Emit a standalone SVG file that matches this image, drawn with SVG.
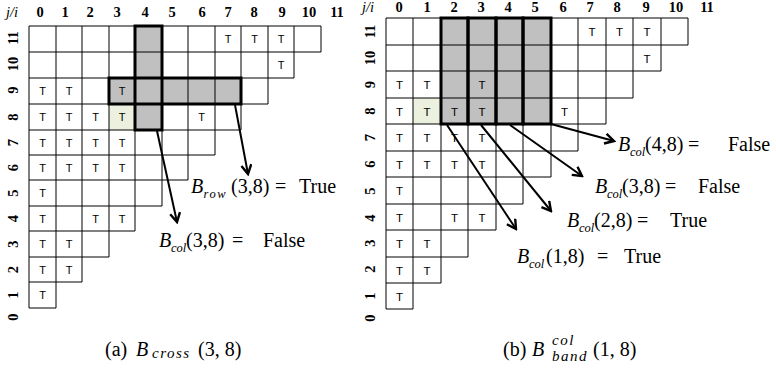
<svg xmlns="http://www.w3.org/2000/svg" width="776" height="371" viewBox="0 0 776 371">
<defs>
<style>
.g{fill:none;stroke:#000;stroke-width:1}
.k{fill:none;stroke:#000;stroke-width:3}
.gray{fill:#c0c0c0}
.grn{fill:#ebf1de}
.t{font-family:"Liberation Sans",Arial,sans-serif;font-size:11px;text-anchor:middle;fill:#000}
.tb{font-family:"Liberation Sans",Arial,sans-serif;font-size:11.5px;text-anchor:middle;fill:#000}
.h{font-family:"Liberation Serif","Times New Roman",serif;font-size:14.5px;font-weight:bold;text-anchor:middle;fill:#000}
.ji{font-family:"Liberation Serif","Times New Roman",serif;font-size:14.5px;font-style:italic;fill:#000}
.m{font-family:"Liberation Serif","Times New Roman",serif;font-size:20px;fill:#000}
.i{font-style:italic}
.s{font-size:12.5px;font-style:italic}
.cap{font-family:"Liberation Serif","Times New Roman",serif;font-size:20px;fill:#000}
.cs{font-size:15px;font-style:italic;letter-spacing:1.5px}
.arr{fill:none;stroke:#000;stroke-width:2}
</style>
<marker id="ah" viewBox="0 0 12 12" refX="10" refY="6" markerWidth="12" markerHeight="12" markerUnits="userSpaceOnUse" orient="auto">
<path d="M1,1 L10,6 L1,11" fill="none" stroke="#000" stroke-width="2.4"/>
</marker>
</defs>

<g id="grid-a">
<rect class="gray" x="135" y="26" width="27" height="104"/>
<rect class="gray" x="109" y="78" width="132" height="26"/>
<rect class="grn" x="109" y="104" width="26" height="26"/>
<path class="g" d="M29,26V308M56,26V308M82,26V282M109,26V257M135,26V231M162,26V206M188,26V180M215,26V155M241,26V130M268,26V104M294,26V78M321,26V52M29,26H321M29,52H321M29,78H294M29,104H268M29,130H241M29,155H215M29,180H188M29,206H162M29,231H135M29,257H109M29,282H82M29,308H56"/>
<rect class="k" x="135" y="26" width="27" height="104"/>
<rect class="k" x="109" y="78" width="132" height="26"/>
<g>
<text class="t" x="228" y="43">T</text><text class="t" x="254.5" y="43">T</text><text class="t" x="281" y="43">T</text>
<text class="t" x="281" y="69">T</text>
<text class="t" x="42.5" y="95">T</text><text class="t" x="69" y="95">T</text><text class="t" x="122" y="95">T</text>
<text class="t" x="42.5" y="121">T</text><text class="t" x="69" y="121">T</text><text class="t" x="95.5" y="121">T</text><text class="t" x="122" y="121">T</text><text class="t" x="201.5" y="121">T</text>
<text class="t" x="42.5" y="146.5">T</text><text class="t" x="69" y="146.5">T</text><text class="t" x="95.5" y="146.5">T</text><text class="t" x="122" y="146.5">T</text>
<text class="t" x="42.5" y="171.5">T</text><text class="t" x="69" y="171.5">T</text><text class="t" x="95.5" y="171.5">T</text><text class="t" x="122" y="171.5">T</text>
<text class="t" x="42.5" y="197">T</text>
<text class="t" x="42.5" y="222.5">T</text><text class="t" x="95.5" y="222.5">T</text><text class="t" x="122" y="222.5">T</text>
<text class="t" x="42.5" y="248">T</text><text class="t" x="69" y="248">T</text>
<text class="t" x="42.5" y="273.5">T</text><text class="t" x="69" y="273.5">T</text>
<text class="t" x="42.5" y="299">T</text>
</g>
<g>
<text class="ji" x="6" y="17">j/i</text>
<text class="h" x="40" y="17">0</text><text class="h" x="65" y="17">1</text><text class="h" x="90" y="17">2</text><text class="h" x="117" y="17">3</text><text class="h" x="145" y="17">4</text><text class="h" x="172" y="17">5</text><text class="h" x="202" y="17">6</text><text class="h" x="228" y="17">7</text><text class="h" x="254" y="17">8</text><text class="h" x="282" y="17">9</text><text class="h" x="309" y="17">10</text><text class="h" x="337" y="17">11</text>
<text class="h" transform="translate(18,38) rotate(-90)">11</text>
<text class="h" transform="translate(18,64) rotate(-90)">10</text>
<text class="h" transform="translate(18,90) rotate(-90)">9</text>
<text class="h" transform="translate(18,117) rotate(-90)">8</text>
<text class="h" transform="translate(18,142.5) rotate(-90)">7</text>
<text class="h" transform="translate(18,167.5) rotate(-90)">6</text>
<text class="h" transform="translate(18,193) rotate(-90)">5</text>
<text class="h" transform="translate(18,218.5) rotate(-90)">4</text>
<text class="h" transform="translate(18,244) rotate(-90)">3</text>
<text class="h" transform="translate(18,269.5) rotate(-90)">2</text>
<text class="h" transform="translate(18,295) rotate(-90)">1</text>
<text class="h" transform="translate(18,317) rotate(-90)">0</text>
</g>
</g>

<g id="grid-b">
<rect class="gray" x="441" y="18" width="110" height="106"/>
<rect class="grn" x="413" y="98" width="28" height="26"/>
<path class="g" d="M386,18V309M413,18V309M441,18V283M468,18V257M496,18V230M523,18V204M551,18V177M578,18V151M606,18V124M633,18V98M661,18V71M688,18V45M386,18H688M386,45H688M386,71H661M386,98H633M386,124H606M386,151H578M386,177H551M386,204H523M386,230H496M386,257H468M386,283H441M386,309H413"/>
<rect class="k" x="441" y="18" width="27" height="106"/>
<rect class="k" x="468" y="18" width="28" height="106"/>
<rect class="k" x="496" y="18" width="27" height="106"/>
<rect class="k" x="523" y="18" width="28" height="106"/>
<g>
<text class="tb" x="592" y="36">T</text><text class="tb" x="619.5" y="36">T</text><text class="tb" x="647" y="36">T</text>
<text class="tb" x="647" y="62.5">T</text>
<text class="tb" x="399.5" y="89">T</text><text class="tb" x="427" y="89">T</text><text class="tb" x="482" y="89">T</text>
<text class="tb" x="399.5" y="115.5">T</text><text class="tb" x="427" y="115.5">T</text><text class="tb" x="454.5" y="115.5">T</text><text class="tb" x="482" y="115.5">T</text><text class="tb" x="564.5" y="115.5">T</text>
<text class="tb" x="399.5" y="142">T</text><text class="tb" x="427" y="142">T</text><text class="tb" x="454.5" y="142">T</text><text class="tb" x="482" y="142">T</text>
<text class="tb" x="399.5" y="168.5">T</text><text class="tb" x="427" y="168.5">T</text><text class="tb" x="454.5" y="168.5">T</text><text class="tb" x="482" y="168.5">T</text>
<text class="tb" x="399.5" y="195">T</text>
<text class="tb" x="399.5" y="221.5">T</text><text class="tb" x="454.5" y="221.5">T</text><text class="tb" x="482" y="221.5">T</text>
<text class="tb" x="399.5" y="248">T</text><text class="tb" x="427" y="248">T</text>
<text class="tb" x="399.5" y="274.5">T</text><text class="tb" x="427" y="274.5">T</text>
<text class="tb" x="399.5" y="300.5">T</text>
</g>
<g>
<text class="ji" x="362" y="12">j/i</text>
<text class="h" x="399" y="12">0</text><text class="h" x="427" y="12">1</text><text class="h" x="454" y="12">2</text><text class="h" x="481" y="12">3</text><text class="h" x="508" y="12">4</text><text class="h" x="535" y="12">5</text><text class="h" x="563" y="12">6</text><text class="h" x="590" y="12">7</text><text class="h" x="617" y="12">8</text><text class="h" x="646" y="12">9</text><text class="h" x="676" y="12">10</text><text class="h" x="707" y="12">11</text>
<text class="h" transform="translate(375,31.5) rotate(-90)">11</text>
<text class="h" transform="translate(375,58) rotate(-90)">10</text>
<text class="h" transform="translate(375,84.5) rotate(-90)">9</text>
<text class="h" transform="translate(375,111) rotate(-90)">8</text>
<text class="h" transform="translate(375,137.5) rotate(-90)">7</text>
<text class="h" transform="translate(375,164) rotate(-90)">6</text>
<text class="h" transform="translate(375,191) rotate(-90)">5</text>
<text class="h" transform="translate(375,218) rotate(-90)">4</text>
<text class="h" transform="translate(375,243) rotate(-90)">3</text>
<text class="h" transform="translate(375,269) rotate(-90)">2</text>
<text class="h" transform="translate(375,296) rotate(-90)">1</text>
<text class="h" transform="translate(375,318) rotate(-90)">0</text>
</g>
</g>

<g id="connectors">
<line class="arr" x1="157" y1="131" x2="177" y2="222" marker-end="url(#ah)"/>
<line class="arr" x1="235" y1="105" x2="248" y2="174" marker-end="url(#ah)"/>
<line class="arr" x1="447" y1="125" x2="516" y2="229" marker-end="url(#ah)"/>
<line class="arr" x1="481" y1="125" x2="551" y2="211" marker-end="url(#ah)"/>
<line class="arr" x1="510" y1="125" x2="582" y2="176" marker-end="url(#ah)"/>
<line class="arr" x1="551" y1="124" x2="614" y2="141" marker-end="url(#ah)"/>
</g>

<g id="label-brow">
<text class="m" y="193"><tspan x="191" class="i">B</tspan><tspan x="203.5" dy="5" class="s" letter-spacing="1.5">row</tspan><tspan x="231" dy="-5">(3,8)</tspan> <tspan x="275">=</tspan> <tspan x="299">True</tspan></text>
</g>
<g id="label-bcol-a">
<text class="m" y="247"><tspan x="159" class="i">B</tspan><tspan x="171" dy="5" class="s">col</tspan><tspan x="186" dy="-5">(3,8)</tspan> <tspan x="232">=</tspan> <tspan x="263">False</tspan></text>
</g>
<g id="label-bcol48">
<text class="m" y="151"><tspan x="618" class="i">B</tspan><tspan x="630" dy="5" class="s">col</tspan><tspan x="645" dy="-5">(4,8)</tspan> <tspan x="688">=</tspan> <tspan x="728">False</tspan></text>
</g>
<g id="label-bcol38">
<text class="m" y="193"><tspan x="595" class="i">B</tspan><tspan x="607" dy="5" class="s">col</tspan><tspan x="622" dy="-5">(3,8)</tspan> <tspan x="665">=</tspan> <tspan x="698">False</tspan></text>
</g>
<g id="label-bcol28">
<text class="m" y="227"><tspan x="567" class="i">B</tspan><tspan x="579" dy="5" class="s">col</tspan><tspan x="594" dy="-5">(2,8)</tspan> <tspan x="637">=</tspan> <tspan x="670">True</tspan></text>
</g>
<g id="label-bcol18">
<text class="m" y="263"><tspan x="517" class="i">B</tspan><tspan x="529" dy="5" class="s">col</tspan><tspan x="546" dy="-5">(1,8)</tspan> <tspan x="597">=</tspan> <tspan x="624">True</tspan></text>
</g>

<g id="caption-a">
<text class="cap" y="356"><tspan x="105">(a)</tspan> <tspan x="136" class="i">B</tspan><tspan x="152" dy="2" class="cs">cross</tspan><tspan x="198" dy="-2">(3, 8)</tspan></text>
</g>
<g id="caption-b">
<text class="cap" y="356"><tspan x="503">(b)</tspan> <tspan x="532" class="i">B</tspan><tspan x="552" y="345" class="cs">col</tspan><tspan x="552" y="361" class="cs">band</tspan><tspan x="593" y="356">(1, 8)</tspan></text>
</g>
</svg>
